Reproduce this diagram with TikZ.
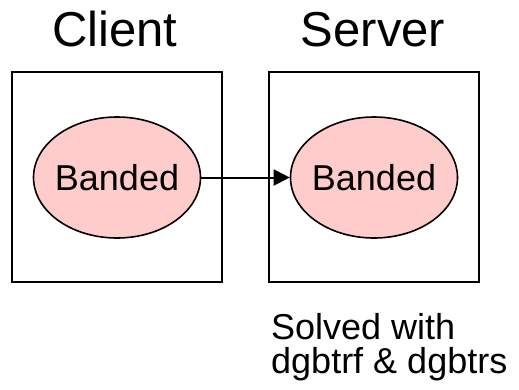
\documentclass[tikz,border=0pt]{standalone}
\usepackage{fontspec}
\setmainfont{Liberation Sans}
\usetikzlibrary{shapes.geometric,arrows.meta}
\definecolor{bandpink}{HTML}{FFCCCC}
\begin{document}
\begin{tikzpicture}[x=1pt,y=-1pt,
  frame/.style={draw=black,line width=2.2pt,fill=white},
  banded/.style={ellipse,draw=black,line width=1.6pt,fill=bandpink,
    minimum width=167pt,minimum height=121pt,inner sep=0pt,
    font=\fontsize{36}{40}\selectfont},
  title/.style={anchor=base,inner sep=0pt,font=\fontsize{49}{56}\selectfont},
  link/.style={draw=black,line width=2pt,-{Triangle[length=16pt,width=16pt]}}]
  \useasboundingbox (0,0) rectangle (519,389);
  % client and server frames
  \draw[frame] (12,72) rectangle (222,282);
  \draw[frame] (269,72) rectangle (479,282);
  % titles
  \node[title] (client) at (115,46.5) {Client};
  \node[title] (server) at (373,46.5) {Server};
  % banded matrices (zero-width text so the ellipse keeps its own size)
  \node[banded] (cb) at (117,177.5) {\makebox[0pt]{Banded}};
  \node[banded] (sb) at (374,177.5) {\makebox[0pt]{Banded}};
  \draw[link] (cb) -- (sb);
  % solver note
  \node[anchor=base west,inner sep=0pt,align=left,
    font=\fontsize{36}{34}\selectfont] (note) at (271,373)
    {Solved with\\dgbtrf \& dgbtrs};
\end{tikzpicture}
\end{document}
